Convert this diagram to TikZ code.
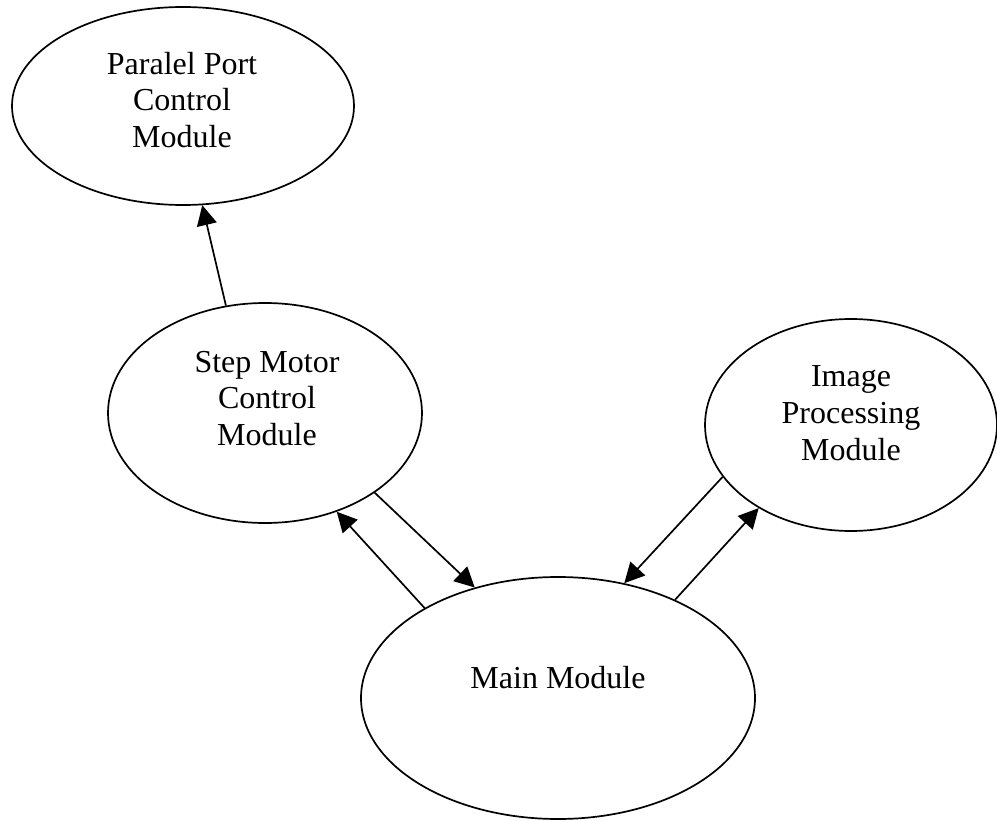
\documentclass[tikz,border=0pt]{standalone}
\usepackage{fontspec}
\setmainfont{Liberation Serif}
\usetikzlibrary{shapes.geometric,arrows.meta}
\begin{document}
\begin{tikzpicture}[x=1pt,y=-1pt,
  module/.style={ellipse, draw, line width=1.7pt, inner sep=0pt},
  txt/.style={font=\fontsize{32}{36.5}\selectfont, inner sep=0pt, anchor=base},
  arr/.style={line width=1.7pt, -{Triangle[length=20pt,width=20pt]}}]
\useasboundingbox[fill=white] (0,0) rectangle (997,821);

\node[module, minimum width=342pt, minimum height=198pt] (par) at (183,106) {};
\node[module, minimum width=314pt, minimum height=220pt] (step) at (265,413) {};
\node[module, minimum width=292pt, minimum height=212pt] (img) at (851,425) {};
\node[module, minimum width=394pt, minimum height=242pt] (main) at (558,698) {};

\node[txt] (par1) at (182,75) {Paralel Port};
\node[txt] (par2) at (182,111) {Control};
\node[txt] (par3) at (182,148) {Module};

\node[txt] (step1) at (267,372) {Step Motor};
\node[txt] (step2) at (267,408) {Control};
\node[txt] (step3) at (267,445) {Module};

\node[txt] (img1) at (851,387) {Image};
\node[txt] (img2) at (851,423) {Processing};
\node[txt] (img3) at (851,460) {Module};

\node[txt] (main1) at (558,688) {Main Module};

\draw[arr] (step.110.8) -- (par.-79.4);
\draw[arr] (main.146.3) -- (step.-54.5);
\draw[arr] (step.-36) -- (main.127.7);
\draw[arr] (img.-158) -- (main.60.7);
\draw[arr] (main.40.7) -- (img.-138.5);
\end{tikzpicture}
\end{document}
